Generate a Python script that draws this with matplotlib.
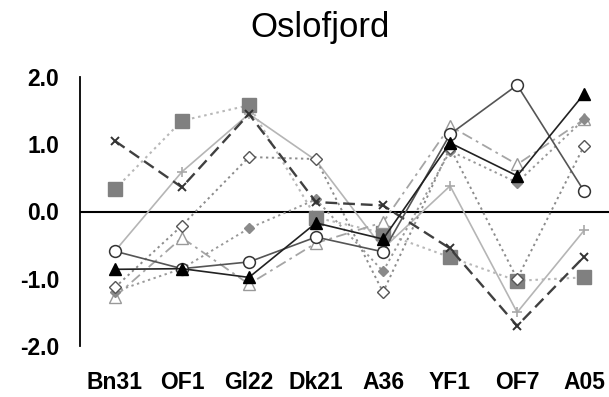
import matplotlib
matplotlib.use("Agg")
import matplotlib.pyplot as plt
import numpy as np

plt.rcParams['font.family'] = ['Liberation Sans', 'DejaVu Sans']

categories = ['Bn31', 'OF1', 'Gl22', 'Dk21', 'A36', 'YF1', 'OF7', 'A05']
y_ticks = [-2.0, -1.0, 0.0, 1.0, 2.0]
y_tick_labels = ['-2.0', '-1.0', '0.0', '1.0', '2.0']

series_circle = [-0.59, -0.85, -0.75, -0.38, -0.60, 1.15, 1.88, 0.30]
series_tri_black = [-0.86, -0.85, -0.98, -0.17, -0.41, 1.02, 0.53, 1.75]
series_x = [1.05, 0.36, 1.45, 0.14, 0.09, -0.55, -1.70, -0.67]
series_square = [0.33, 1.35, 1.58, -0.09, -0.32, -0.68, -1.03, -0.98]
series_diamond_open = [-1.13, -0.21, 0.81, 0.78, -1.20, 0.95, -1.00, 0.98]
series_diamond_gray = [-1.19, -0.85, -0.25, 0.18, -0.89, 0.90, 0.43, 1.37]
series_tri_open = [-1.27, -0.39, -1.08, -0.47, -0.16, 1.27, 0.70, 1.37]
series_plus = [-0.59, 0.59, 1.45, 0.76, -0.55, 0.38, -1.50, -0.28]

fig = plt.figure(figsize=(6.09, 3.97), dpi=100)
ax = fig.add_axes([80/609, 1-346/397, 1-80/609, (346-77)/397])
x = np.arange(len(categories))

ax.plot(x, series_plus, color='#b5b5b5', lw=1.2, ls='-', marker='+', ms=7,
        mew=1.2, mec='#a8a8a8', zorder=2)
ax.plot(x, series_square, color='#b8b8b8', lw=1.5, ls=(0, (1.2, 1.8)), marker='s', ms=9.5,
        mfc='#808080', mec='#808080', zorder=3)
ax.plot(x, series_tri_open, color='#a5a5a5', lw=1.3, ls=(0, (6, 2.5, 1.5, 2.5)), marker='^', ms=8.5,
        mfc='white', mec='#999999', mew=1.0, zorder=3)
ax.plot(x, series_diamond_gray, color='#999999', lw=1.4, ls=(0, (1.2, 1.8)), marker='D', ms=5.5,
        mfc='#8a8a8a', mec='#8a8a8a', zorder=3)
ax.plot(x, series_diamond_open, color='#8c8c8c', lw=1.4, ls=(0, (1.2, 1.8)), marker='D', ms=6.5,
        mfc='white', mec='#555555', mew=1.0, zorder=4)
ax.plot(x, series_x, color='#404040', lw=1.7, ls=(0, (5, 2.5)), marker='x', ms=6,
        mew=1.4, mec='#333333', zorder=4)
ax.plot(x, series_circle, color='#555555', lw=1.2, ls='-', marker='o', ms=8.5,
        mfc='white', mec='#333333', mew=1.1, zorder=5)
ax.plot(x, series_tri_black, color='#222222', lw=1.2, ls='-', marker='^', ms=8.5,
        mfc='black', mec='black', zorder=5)

ax.axhline(0, color='black', lw=1.5, zorder=1)

ax.set_xlim(-0.52, 7.37)
ax.set_ylim(-2.0, 2.0)
ax.set_yticks(y_ticks)
ax.set_yticklabels(y_tick_labels, fontsize=16.5, fontweight='bold')
ax.set_xticks(x)
ax.set_xticklabels(categories, fontsize=16.5, fontweight='bold')
ax.tick_params(axis='y', length=0, pad=15)
ax.tick_params(axis='x', length=0, pad=18)

for s in ['top', 'right', 'bottom']:
    ax.spines[s].set_visible(False)
ax.spines['left'].set_color('black')
ax.spines['left'].set_linewidth(1.3)

fig.text(320/609, 1-27/397, 'Oslofjord', ha='center', va='center', fontsize=25)

fig.savefig('out.png', dpi=100)
